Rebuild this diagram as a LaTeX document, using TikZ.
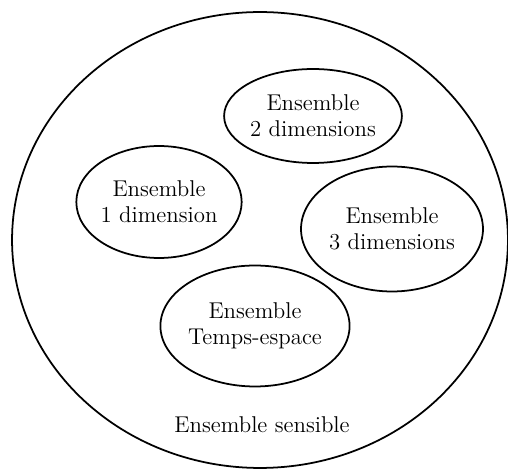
\documentclass[tikz,border=0pt]{standalone}
\usetikzlibrary{shapes.geometric}
\begin{document}
\begin{tikzpicture}[x=0.02cm,y=-0.02cm,
  set/.style={draw,ellipse,line width=1pt,inner sep=0pt,align=center,
    font=\fontsize{13}{15}\selectfont}]
\useasboundingbox (0,0) rectangle (508,469);
% outer set
\node[set,minimum width=9.92cm,minimum height=9.12cm] (sensible) at (260,240) {};
\node[font=\fontsize{13}{15}\selectfont] (sensiblelbl) at (262,425) {Ensemble sensible};
% inner sets
\node[set,minimum width=3.4cm,minimum height=1.88cm] (d2) at (313,116) {Ensemble\\2 dimensions};
\node[set,minimum width=3.24cm,minimum height=2.24cm] (d1) at (159,202) {Ensemble\\1 dimension};
\node[set,minimum width=3.64cm,minimum height=2.5cm] (d3) at (392,229) {Ensemble\\3 dimensions};
\node[set,minimum width=3.42cm,minimum height=2.42cm] (te) at (255,326) {Ensemble\\Temps-espace};
\end{tikzpicture}
\end{document}
